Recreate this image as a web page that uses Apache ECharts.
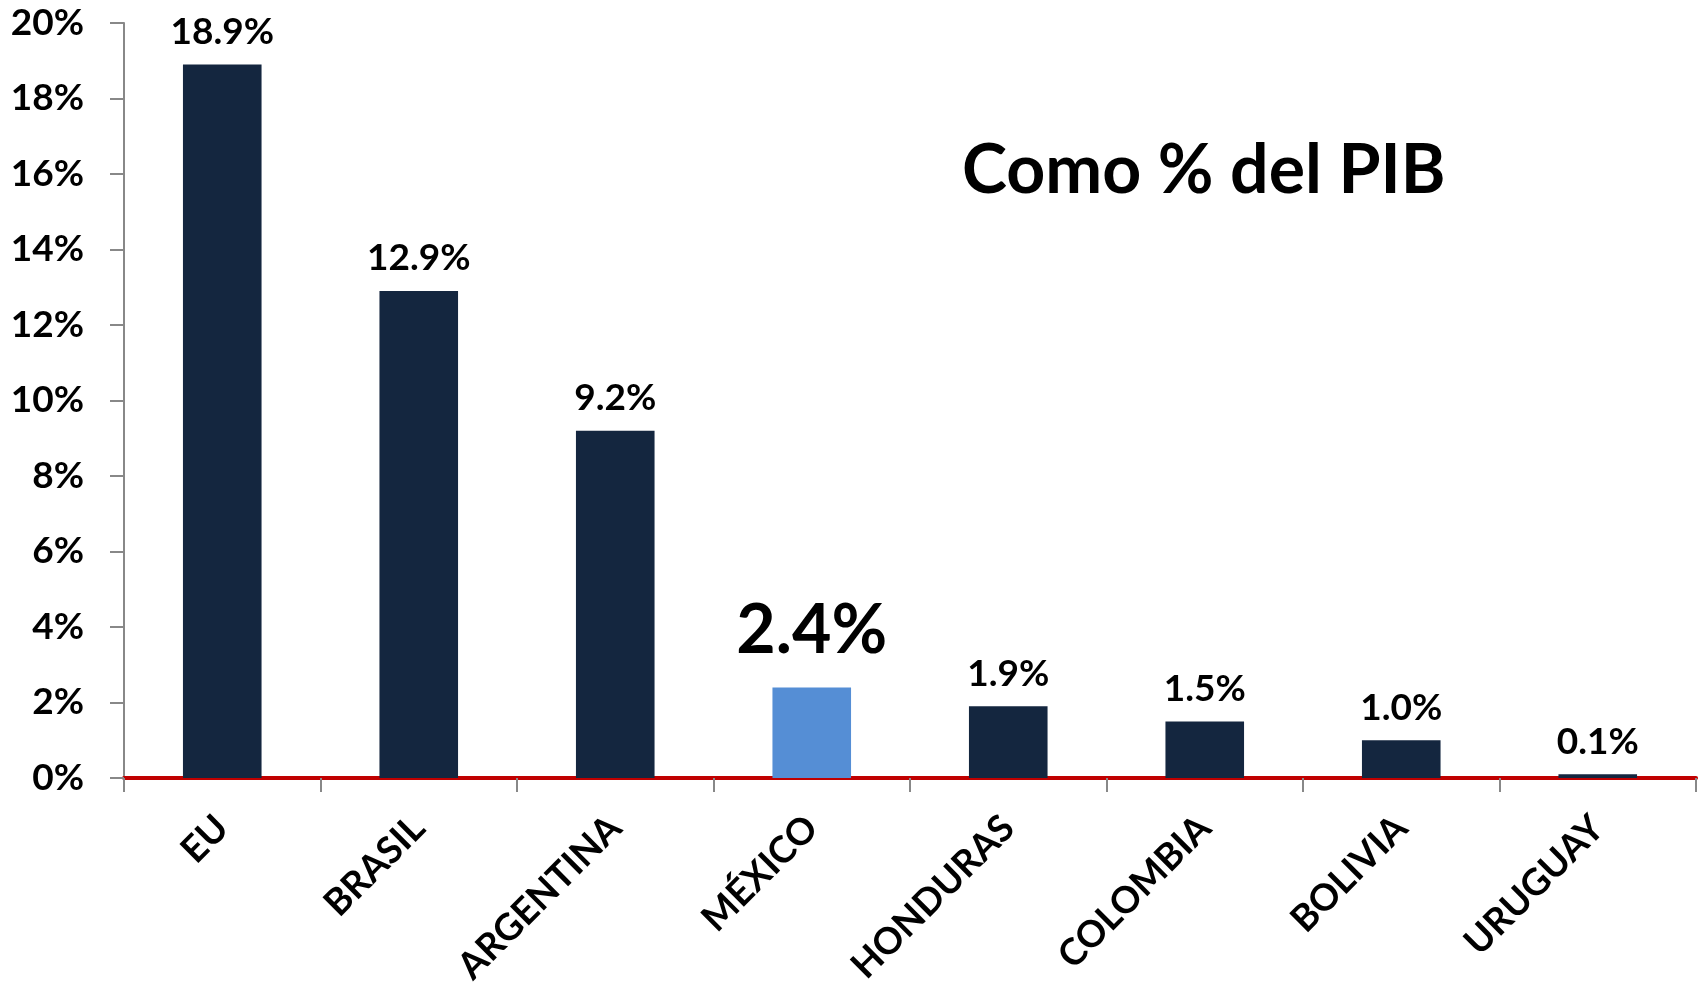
<!DOCTYPE html>
<html><head><meta charset="utf-8">
<script src="https://cdn.jsdelivr.net/npm/echarts@6/dist/echarts.min.js"></script>
<style>html,body{margin:0;padding:0;background:#fff}#c{width:1702px;height:984px}</style>
</head><body><div id="c"></div>
<script>
const categories = ['EU','BRASIL','ARGENTINA','MÉXICO','HONDURAS','COLOMBIA','BOLIVIA','URUGUAY'];
const values = [18.9, 12.9, 9.2, 2.4, 1.9, 1.5, 1.0, 0.1];
const highlightCategory = 'MÉXICO';
const yTicks = [0, 2, 4, 6, 8, 10, 12, 14, 16, 18, 20];
const titleText = 'Como % del PIB';

const FONT = 'Lato';
const data = values.map((v, i) => {
  const hi = categories[i] === highlightCategory;
  return {
    value: v,
    itemStyle: { color: hi ? '#558ED5' : '#14263F' },
    label: hi ? { fontSize: 68, distance: 22 } : {}
  };
});

const chart = echarts.init(document.getElementById('c'));
chart.setOption({
  animation: false,
  backgroundColor: '#fff',
  title: {
    text: titleText, left: 957, top: 132,
    textStyle: { fontFamily: FONT, fontWeight: 'bold', fontSize: 68, color: '#000' }
  },
  grid: { left: 124, right: 6, top: 23, bottom: 206, containLabel: false, outerBoundsMode: 'none' },
  xAxis: {
    type: 'category', data: categories,
    axisLine: { lineStyle: { color: '#C00000', width: 4 } },
    axisTick: { show: true, length: 14, lineStyle: { color: '#888', width: 2 } },
    axisLabel: { rotate: 45, margin: 44, fontFamily: FONT, fontWeight: 'bold', fontSize: 37, color: '#000' }
  },
  yAxis: {
    type: 'value', min: yTicks[0], max: yTicks[yTicks.length - 1], interval: 2,
    splitLine: { show: false },
    axisLine: { show: true, lineStyle: { color: '#888', width: 2 } },
    axisTick: { show: true, length: 14, lineStyle: { color: '#888', width: 2 } },
    axisLabel: { margin: 40, fontFamily: FONT, fontWeight: 'bold', fontSize: 37, color: '#000',
      formatter: v => v + '%' }
  },
  series: [{
    type: 'bar', data: data, barWidth: '40%',
    label: { show: true, position: 'top', distance: 14, fontFamily: FONT, fontWeight: 'bold', fontSize: 37, color: '#000',
      formatter: p => p.value.toFixed(1) + '%' }
  }]
});
</script></body></html>
